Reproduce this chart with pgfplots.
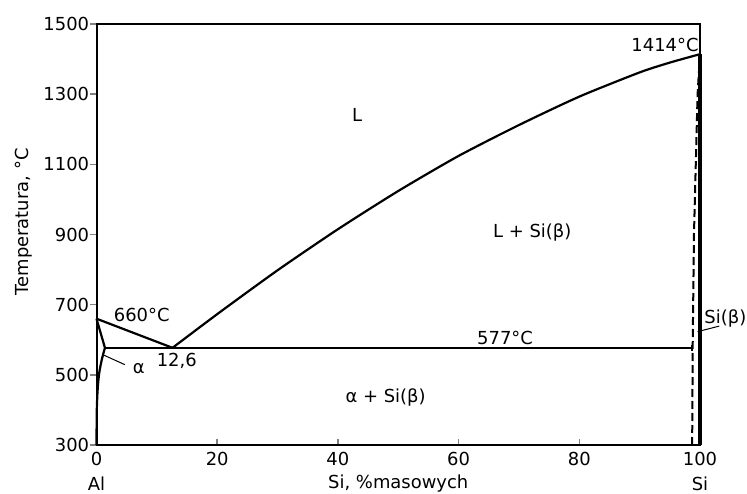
\documentclass[border=0pt]{standalone}
\usepackage{pgfplots}
\pgfplotsset{compat=1.18}
\usepackage{fontspec}
\setmainfont{DejaVu Sans}
\usetikzlibrary{calc}

\begin{document}
\begin{tikzpicture}[font=\fontsize{9}{11}\selectfont]
\begin{axis}[
    scale only axis,
    width=301.75bp, height=210.5bp,
    xmin=0, xmax=100,
    ymin=300, ymax=1500,
    xtick={0,20,40,60,80,100},
    ytick={300,500,700,900,1100,1300,1500},
    tick align=outside,
    xtick pos=bottom, ytick pos=left,
    major tick length=3bp,
    x tick style={yshift=3bp, line width=0.8bp},
    y tick style={line width=0.8bp},
    xticklabel style={yshift=3bp},
    yticklabel style={inner xsep=0.5pt},
    axis line style={line width=1bp},
    /pgf/number format/assume math mode=true,
    /pgf/number format/1000 sep={},
    xlabel={Si, \%masowych},
    xlabel style={at={(axis description cs:0.5,-0.0926)}, anchor=center},
    ylabel={Temperatura, °C},
    ylabel style={at={(axis description cs:-0.12,0.53)}, anchor=center},
    clip=false,
]
% liquidus, Al side
\addplot[black, line width=1.1bp] coordinates {(0,660) (12.6,577)};
% liquidus, Si side
\addplot[black, line width=1.1bp, smooth, tension=0.4] coordinates {
    (12.6,577) (20,673) (30,798) (40,915) (50,1024)
    (60,1124) (70,1212) (80,1293) (90,1362) (95,1390) (100,1414)
};
% eutectic line
\addplot[black, line width=1.1bp] coordinates {(1.4,577) (98.7,577)};
\addplot[black, line width=0.8bp] coordinates {(98.7,568) (98.7,586)};
% alpha solidus and solvus
\addplot[black, line width=1.1bp] coordinates {(0,660) (1.4,577)};
\addplot[black, line width=1.1bp, smooth] coordinates {
    (1.4,577) (0.9,545) (0.45,505) (0.2,460) (0.05,400) (0,300)
};
% Si(beta) boundary
\addplot[black, line width=1bp, dash pattern=on 4bp off 2bp] coordinates {
    (98.7,300) (98.8,600) (99.0,900) (99.3,1100) (99.6,1300) (100,1414)
};
\addplot[black, line width=1.8bp] coordinates {(100,300) (100,1414)};
% leaders
\addplot[black, line width=0.5bp] coordinates {(1.1,557) (4.7,529)};
\addplot[black, line width=0.5bp] coordinates {(99.6,623) (103.2,639)};

\node at (axis cs:43.2,1241) {L};
\node at (axis cs:72.2,907) {L + Si(β)};
\node at (axis cs:47.9,434) {α + Si(β)};
\node at (axis cs:67.7,605) {577°C};
\node at (axis cs:7.5,671) {660°C};
\node at (axis cs:94.2,1440) {1414°C};
\node at (axis cs:13.3,541) {12,6};
\node at (axis cs:7,519) {α};
\node at (axis cs:104.2,662) {Si(β)};
\node at (axis description cs:0,-0.0926) {Al};
\node at (axis description cs:1,-0.0926) {Si};
\end{axis}
\pgfresetboundingbox
\path[use as bounding box]
    ($(current axis.south west)+(-48.25bp,-24.5bp)$)
    rectangle ($(current axis.north east)+(23.5bp,12bp)$);
\end{tikzpicture}
\end{document}
